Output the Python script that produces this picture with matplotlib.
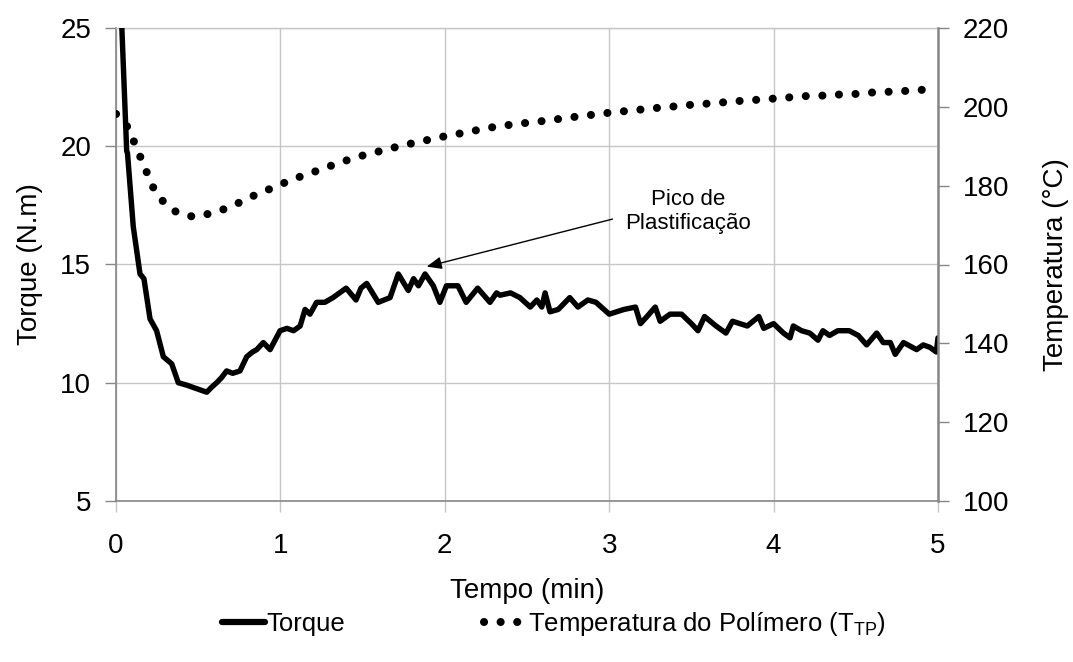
import matplotlib
matplotlib.use("Agg")
import matplotlib.pyplot as plt

plt.rcParams['font.family'] = ['Liberation Sans', 'DejaVu Sans']
plt.rcParams['mathtext.fontset'] = 'custom'
plt.rcParams['mathtext.rm'] = 'Liberation Sans'
plt.rcParams['mathtext.it'] = 'Liberation Sans'

# ---- data ----
torque_t = [0.030, 0.065, 0.070, 0.105, 0.146, 0.170, 0.207, 0.247, 0.288, 0.339, 0.379,
            0.430, 0.470, 0.511, 0.552, 0.580, 0.612, 0.640, 0.673, 0.710, 0.754, 0.795,
            0.830, 0.856, 0.896, 0.937, 0.998, 1.040, 1.080, 1.120, 1.150, 1.180, 1.220,
            1.270, 1.320, 1.360, 1.400, 1.460, 1.490, 1.525, 1.560, 1.595, 1.667, 1.717,
            1.778, 1.810, 1.840, 1.880, 1.930, 1.970, 2.010, 2.080, 2.130, 2.200, 2.275,
            2.315, 2.336, 2.400, 2.457, 2.520, 2.560, 2.590, 2.610, 2.640, 2.690, 2.760,
            2.810, 2.870, 2.920, 3.000, 3.090, 3.160, 3.190, 3.230, 3.280, 3.310, 3.370,
            3.440, 3.500, 3.540, 3.580, 3.650, 3.710, 3.750, 3.840, 3.910, 3.940, 4.000,
            4.060, 4.100, 4.120, 4.170, 4.220, 4.270, 4.300, 4.340, 4.390, 4.460, 4.515,
            4.566, 4.627, 4.667, 4.710, 4.740, 4.790, 4.870, 4.910, 4.950, 4.990, 5.000]
torque_v = [26.0, 19.8, 19.7, 16.6, 14.6, 14.4, 12.7, 12.2, 11.1, 10.8, 10.0,
            9.9, 9.8, 9.7, 9.6, 9.8, 10.0, 10.2, 10.5, 10.4, 10.5, 11.1,
            11.3, 11.4, 11.7, 11.4, 12.2, 12.3, 12.2, 12.4, 13.1, 12.9, 13.4,
            13.4, 13.6, 13.8, 14.0, 13.5, 14.0, 14.2, 13.8, 13.4, 13.6, 14.6,
            13.9, 14.4, 14.1, 14.6, 14.1, 13.4, 14.1, 14.1, 13.4, 14.0, 13.4,
            13.8, 13.7, 13.8, 13.6, 13.2, 13.5, 13.2, 13.8, 13.0, 13.1, 13.6,
            13.2, 13.5, 13.4, 12.9, 13.1, 13.2, 12.5, 12.8, 13.2, 12.6, 12.9,
            12.9, 12.5, 12.2, 12.8, 12.4, 12.1, 12.6, 12.4, 12.8, 12.3, 12.5,
            12.1, 11.9, 12.4, 12.2, 12.1, 11.8, 12.2, 12.0, 12.2, 12.2, 12.0,
            11.6, 12.1, 11.7, 11.7, 11.2, 11.7, 11.4, 11.6, 11.5, 11.3, 11.9]

temp_t = [0.00, 0.07, 0.11, 0.15, 0.19, 0.23, 0.29, 0.37, 0.47, 0.57, 0.67, 0.76,
          0.85, 0.95, 1.04, 1.14, 1.24, 1.33, 1.43, 1.53, 1.63, 1.73, 1.83, 1.93,
          2.03, 2.13, 2.23, 2.33, 2.43, 2.53, 2.64, 2.74, 2.84, 2.94, 3.04, 3.15,
          3.25, 3.35, 3.46, 3.56, 3.66, 3.76, 3.87, 3.97, 4.07, 4.17, 4.28, 4.38,
          4.48, 4.58, 4.69, 4.79, 4.89, 5.00]
temp_v = [198.2, 194.9, 191.1, 187.1, 183.1, 179.2, 175.8, 173.2, 172.1, 172.9, 174.2, 175.9,
          177.7, 179.4, 181.0, 182.6, 184.0, 185.4, 186.8, 188.0, 189.0, 190.1, 191.0, 191.9,
          192.8, 193.5, 194.4, 195.1, 195.6, 196.1, 196.6, 197.2, 197.7, 198.2, 198.7, 199.1,
          199.6, 199.9, 200.4, 200.7, 201.0, 201.4, 201.7, 202.0, 202.3, 202.7, 202.8, 203.1,
          203.2, 203.6, 203.8, 204.0, 204.3, 204.4]

x_ticks = [0, 1, 2, 3, 4, 5]
y_left_ticks = [5, 10, 15, 20, 25]
y_right_ticks = [100, 120, 140, 160, 180, 200, 220]

# ---- figure ----
fig = plt.figure(figsize=(10.73, 6.62), dpi=100)
ax = fig.add_axes([116/1073, 1 - 501/662, (938-116)/1073, (501-28)/662])
ax2 = ax.twinx()

spine_c = '#868686'
grid_c = '#c6c6c6'
fs = 20

ax.set_xlim(0, 5)
ax.set_ylim(5, 25)
ax2.set_ylim(100, 220)
ax.set_xticks(x_ticks)
ax.set_yticks(y_left_ticks)
ax2.set_yticks(y_right_ticks)

ax.grid(True, color=grid_c, lw=1.0)
ax.set_axisbelow(True)

for a in (ax, ax2):
    for s in a.spines.values():
        s.set_visible(False)
ax.spines['left'].set_visible(True)
ax.spines['left'].set_color(spine_c)
ax.spines['left'].set_linewidth(1.2)
ax.spines['bottom'].set_visible(True)
ax.spines['bottom'].set_color(spine_c)
ax.spines['bottom'].set_linewidth(1.2)
ax.spines['top'].set_visible(True)
ax.spines['top'].set_color(grid_c)
ax.spines['top'].set_linewidth(1.0)
ax2.spines['right'].set_visible(True)
ax2.spines['right'].set_color(spine_c)
ax2.spines['right'].set_linewidth(1.8)

ax.tick_params(axis='y', direction='out', length=8, width=1, color=spine_c,
               labelsize=fs, pad=10)
ax.tick_params(axis='x', direction='out', length=8, width=1, color=grid_c,
               labelsize=fs, pad=15)
ax2.tick_params(axis='y', direction='out', length=8, width=1, color=spine_c,
                labelsize=fs, pad=10)

l1, = ax.plot(torque_t, torque_v, color='black', lw=3.9, solid_joinstyle='round',
              solid_capstyle='round', label='Torque', zorder=3)
l2, = ax2.plot(temp_t, temp_v, color='black', lw=5.8, linestyle=(0, (0.01, 2.05)),
               dash_capstyle='round', label='Temperatura do Polímero (T$_{\\mathrm{TP}}$)',
               zorder=3)

ax.set_xlabel('Tempo (min)', fontsize=fs, labelpad=14)
ax.set_ylabel('Torque (N.m)', fontsize=fs, labelpad=12)
ax2.set_ylabel('Temperatura (°C)', fontsize=fs, labelpad=24)

ax.annotate('', xy=(1.89, 14.91), xytext=(3.02, 16.92),
            arrowprops=dict(arrowstyle='-|>,head_length=0.6,head_width=0.25',
                            lw=1, color='black', mutation_scale=15,
                            shrinkA=0, shrinkB=0))
ax.text(3.48, 17.25, 'Pico de\nPlastificação', ha='center', va='center',
        fontsize=16, linespacing=1.2)

leg = fig.legend(handles=[l1, l2], loc='center', bbox_to_anchor=(0.516, 0.058),
                 ncol=2, frameon=False, fontsize=18.5, handlelength=1.67,
                 handletextpad=0.05, columnspacing=5.4, borderpad=0)
leg.legend_handles[0].set_linewidth(4.5)

fig.savefig('out.png', dpi=100)
